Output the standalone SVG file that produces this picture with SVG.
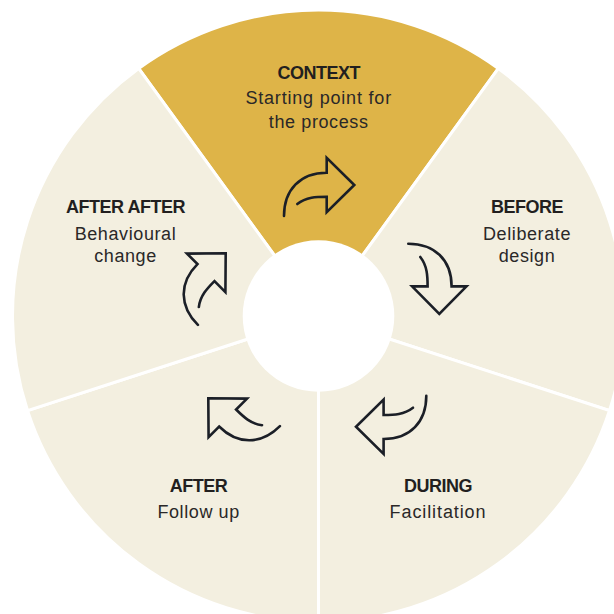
<svg xmlns="http://www.w3.org/2000/svg" xmlns:xlink="http://www.w3.org/1999/xlink" width="614" height="614" viewBox="0 0 614 614">
  <defs>
    <style>
      .seg { stroke: #ffffff; stroke-width: 3; }
      .gold { fill: #DEB448; }
      .cream { fill: #F3EFE0; }
      .title { font-family: "Liberation Sans", Arial, sans-serif; font-weight: bold; font-size: 18px; fill: #221f1f; text-anchor: middle; letter-spacing: -0.5px; }
      .sub { font-family: "Liberation Sans", Arial, sans-serif; font-size: 18px; fill: #2a2828; text-anchor: middle; letter-spacing: 0.6px; }
      .arrow { fill: none; stroke: #1b1f27; stroke-width: 2.6; stroke-linecap: round; stroke-linejoin: miter; }
    </style>
    <!-- curved outline arrow, tip at origin, pointing right -->
    <path id="curl" d="M-70.3,31 C-70.3,5 -54.3,-12.3 -27.6,-12.3 L-27.6,-27.2 L0,0 L-27.6,27.2 L-27.6,11.7 C-38,11.7 -48,12 -57,19"/>
  </defs>

  <rect width="614" height="614" fill="#ffffff"/>

  <!-- wheel centre (318.5,316), outer radius 306 -->
  <g id="context">
    <path class="seg gold" d="M318.5,316 L138.64,68.44 A306,306 0 0 1 498.36,68.44 Z"/>
    <text class="title" x="318.7" y="78.5">CONTEXT</text>
    <text class="sub" x="318.7" y="104" style="letter-spacing:0.8px">Starting point for</text>
    <text class="sub" x="318.7" y="127.5">the process</text>
  </g>

  <g id="before">
    <path class="seg cream" d="M318.5,316 L498.36,68.44 A306,306 0 0 1 609.52,410.56 Z"/>
    <text class="title" x="527" y="213">BEFORE</text>
    <text class="sub" x="527" y="240">Deliberate</text>
    <text class="sub" x="527" y="262">design</text>
  </g>

  <g id="during">
    <path class="seg cream" d="M318.5,316 L609.52,410.56 A306,306 0 0 1 318.5,622 Z"/>
    <text class="title" x="438" y="492.3">DURING</text>
    <text class="sub" x="438" y="517.8" style="letter-spacing:0.9px">Facilitation</text>
  </g>

  <g id="after">
    <path class="seg cream" d="M318.5,316 L318.5,622 A306,306 0 0 1 27.48,410.56 Z"/>
    <text class="title" x="198.6" y="492.3">AFTER</text>
    <text class="sub" x="198.6" y="517.8">Follow up</text>
  </g>

  <g id="after-after">
    <path class="seg cream" d="M318.5,316 L27.48,410.56 A306,306 0 0 1 138.64,68.44 Z"/>
    <text class="title" x="125.5" y="213">AFTER AFTER</text>
    <text class="sub" x="125.5" y="240">Behavioural</text>
    <text class="sub" x="125.5" y="262">change</text>
  </g>

  <!-- white hub -->
  <circle id="hub" cx="318.5" cy="316" r="75.8" fill="#ffffff"/>

  <g id="connectors" class="arrow">
    <use xlink:href="#curl" href="#curl" transform="translate(354.3,185)"/>
    <use xlink:href="#curl" href="#curl" transform="translate(439.3,314) rotate(90)"/>
    <use xlink:href="#curl" href="#curl" transform="translate(356,426.7) rotate(180)"/>
    <use xlink:href="#curl" href="#curl" transform="translate(208.3,398.3) rotate(225)"/>
    <use xlink:href="#curl" href="#curl" transform="translate(225.7,253.3) rotate(315)"/>
  </g>
</svg>
